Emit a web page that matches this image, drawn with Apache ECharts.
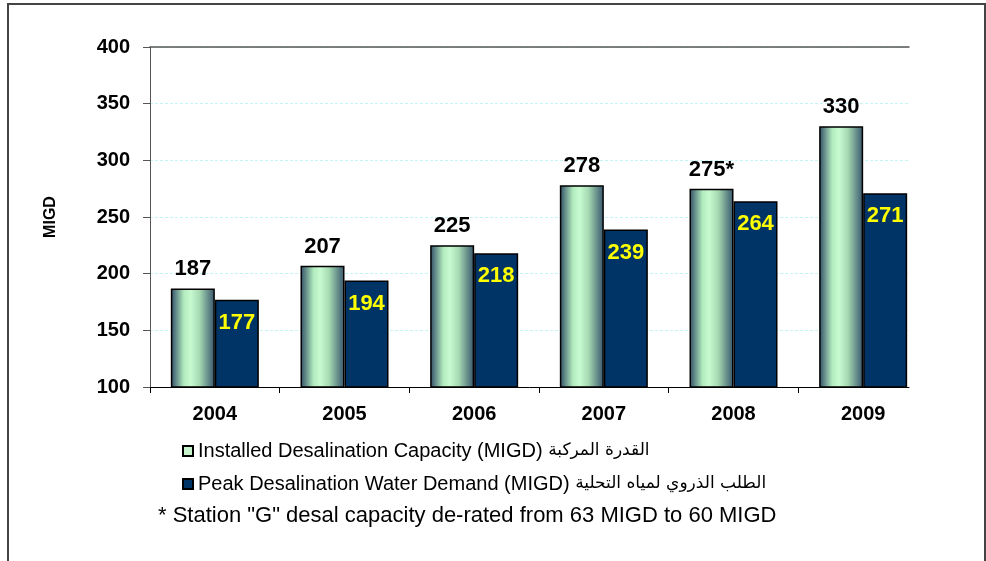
<!DOCTYPE html>
<html>
<head>
<meta charset="utf-8">
<script src="https://cdn.jsdelivr.net/npm/echarts@6/dist/echarts.min.js"></script>
<style>
html,body{margin:0;padding:0;background:#fff;}
#c{width:986px;height:561px;}
</style>
</head>
<body>
<div id="c"></div>
<script>
var years = ['2004','2005','2006','2007','2008','2009'];
var capacity = [187, 207, 225, 278, 275, 330];
var capacityMarks = ['', '', '', '', '*', ''];
var demand = [177, 194, 218, 239, 264, 271];
var yTicks = {min: 100, max: 400, interval: 50};
var capName = 'Installed Desalination Capacity (MIGD)';
var capNameAr = 'القدرة المركبة';
var demName = 'Peak Desalination Water Demand (MIGD)';
var demNameAr = 'الطلب الذروي لمياه التحلية';
var footnote = '* Station "G" desal capacity de-rated from 63 MIGD to 60 MIGD';

var FONT = '"Liberation Sans", Arial, "DejaVu Sans", sans-serif';
// layout: the drawn plot frame ends before the category band does (as in the source image)
var plotLeft = 150, frameRight = 909, bandRight = 928, plotTop = 47, plotBottom = 387, W = 986, H = 561;
var bandW = (bandRight - plotLeft) / years.length;
var frameMax = (frameRight - plotLeft) / bandW;
var tickIdx = years.map(function (y, i) { return i; });

var arMap = {};
arMap[capName] = capNameAr;
arMap[demName] = demNameAr;

var chart = echarts.init(document.getElementById('c'));
var greenGrad = new echarts.graphic.LinearGradient(0, 0, 1, 0, [
  {offset: 0, color: '#2f4b66'},
  {offset: 0.3, color: '#b2ecbe'},
  {offset: 0.45, color: '#c8fad0'},
  {offset: 0.65, color: '#a6dab2'},
  {offset: 1, color: '#36546c'}
]);
chart.setOption({
  animation: false,
  backgroundColor: '#fff',
  textStyle: {fontFamily: FONT},
  grid: [
    {left: plotLeft, right: W - frameRight, top: plotTop, bottom: H - plotBottom},
    {left: plotLeft, right: W - bandRight, top: plotTop, bottom: H - plotBottom}
  ],
  legend: {
    orient: 'vertical', left: 177, top: 436, itemWidth: 10, itemHeight: 10, itemGap: 13,
    textStyle: {fontSize: 20, color: '#000', fontFamily: FONT,
      rich: {
        en: {fontSize: 20, fontFamily: FONT, color: '#000'},
        ar: {fontSize: 17, fontFamily: '"DejaVu Sans", sans-serif', color: '#000'}
      }},
    formatter: function (n) { return '{en|' + n + '} {ar|' + arMap[n] + '}'; },
    data: [
      {name: capName, icon: 'rect', itemStyle: {color: '#c6f2cc', borderColor: '#000', borderWidth: 2}},
      {name: demName, icon: 'rect', itemStyle: {color: '#003366', borderColor: '#000', borderWidth: 2}}
    ]
  },
  xAxis: [{
    gridIndex: 0, type: 'value', min: 0, max: frameMax, position: 'bottom',
    axisLine: {show: true, onZero: false, lineStyle: {color: '#000', width: 1}},
    axisTick: {show: true, length: 6, customValues: tickIdx, lineStyle: {color: '#000'}},
    axisLabel: {show: false}, splitLine: {show: false}
  }, {
    gridIndex: 0, type: 'value', min: 0, max: frameMax, position: 'top',
    axisLine: {show: true, onZero: false, lineStyle: {color: '#555', width: 1.5}},
    axisTick: {show: false}, axisLabel: {show: false}, splitLine: {show: false}
  }, {
    gridIndex: 1, type: 'category', data: years, position: 'bottom',
    axisLine: {show: false}, axisTick: {show: false},
    axisLabel: {fontSize: 20, fontWeight: 'bold', color: '#000', margin: 17}
  }],
  yAxis: [{
    gridIndex: 0, type: 'value', min: yTicks.min, max: yTicks.max, interval: yTicks.interval,
    name: 'MIGD', nameLocation: 'middle', nameGap: 91, nameRotate: 90,
    nameTextStyle: {fontSize: 16, fontWeight: 'bold', color: '#000'},
    axisLine: {show: true, lineStyle: {color: '#555', width: 1}},
    axisTick: {show: true, length: 7, lineStyle: {color: '#555'}},
    axisLabel: {fontSize: 20, fontWeight: 'bold', color: '#000', margin: 20},
    splitLine: {show: true, lineStyle: {color: '#c4f4f4', type: [3, 2], width: 1}}
  }, {
    gridIndex: 1, type: 'value', min: yTicks.min, max: yTicks.max, interval: yTicks.interval,
    show: false, splitLine: {show: false}
  }],
  series: [{
    name: capName, type: 'bar', xAxisIndex: 2, yAxisIndex: 1, data: capacity, barWidth: 44, barGap: '0%',
    itemStyle: {color: greenGrad, borderColor: '#000', borderWidth: 1.5},
    label: {show: true, position: 'top', distance: 8, fontSize: 22, fontWeight: 'bold', color: '#000',
      formatter: function (p) { return p.value + capacityMarks[p.dataIndex]; }}
  }, {
    name: demName, type: 'bar', xAxisIndex: 2, yAxisIndex: 1, data: demand, barWidth: 44,
    itemStyle: {color: '#003366', borderColor: '#000', borderWidth: 1.5},
    label: {show: true, position: 'insideTop', distance: 12, fontSize: 22, fontWeight: 'bold', color: '#ffff00'}
  }],
  graphic: [
    {type: 'polyline', shape: {points: [[8, H], [8, 4], [985, 4], [985, H]]},
     style: {stroke: '#444', lineWidth: 2, fill: null}, silent: true},
    {type: 'text', left: 158, top: 505,
     style: {text: footnote, fontSize: 22, fontFamily: FONT, fill: '#000'}}
  ]
});
</script>
</body>
</html>
